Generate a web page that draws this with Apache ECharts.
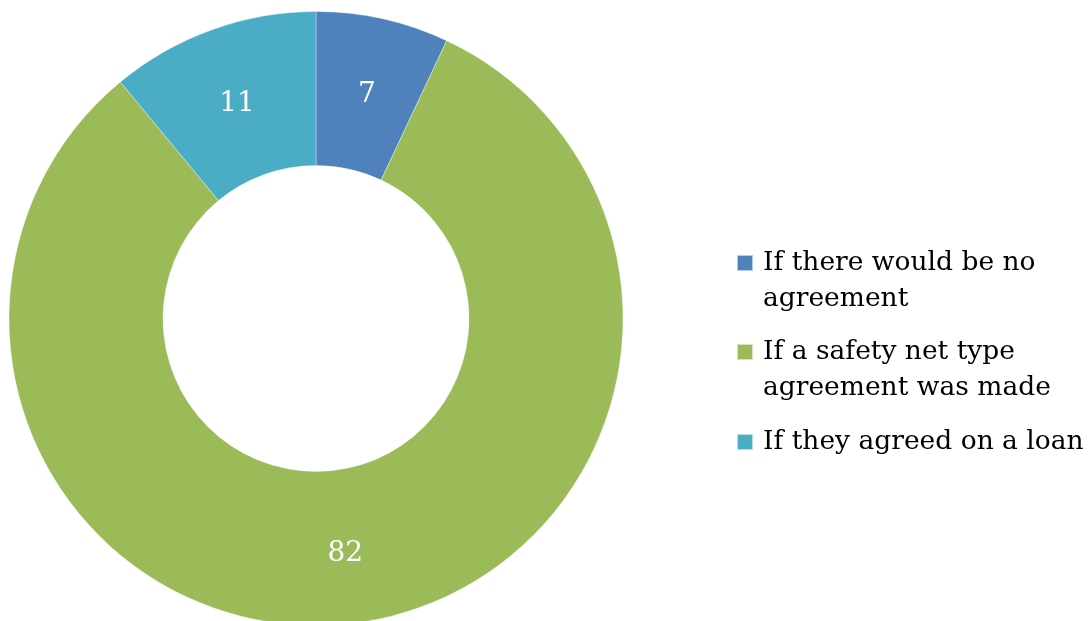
<!DOCTYPE html>
<html>
<head>
<meta charset="utf-8">
<script src="https://cdn.jsdelivr.net/npm/echarts@6/dist/echarts.min.js"></script>
<style>
html,body{margin:0;padding:0;background:#fff;}
#chart{width:1089px;height:621px;}
</style>
</head>
<body>
<div id="chart"></div>
<script>
const categories = ['If there would be no agreement', 'If a safety net type agreement was made', 'If they agreed on a loan'];
const legendLabels = [' \nIf there would be no\nagreement', ' \nIf a safety net type\nagreement was made', 'If they agreed on a loan'];
const values = [7, 82, 11];
const colors = ['#4F81BD', '#9BBB59', '#4BACC6'];

const FONT = 'DejaVu Serif';
const chart = echarts.init(document.getElementById('chart'));

const legendTops = [209, 298, 424];
const legends = categories.map((c, i) => ({
  show: true,
  left: 736,
  top: legendTops[i],
  padding: 0,
  orient: 'vertical',
  itemWidth: 16,
  itemHeight: 16,
  icon: 'rect',
  data: [c],
  selectedMode: false,
  formatter: () => legendLabels[i],
  textStyle: {
    fontFamily: FONT,
    fontSize: 26.5,
    color: '#000',
    lineHeight: 36,
    padding: [0, 0, 0, 5]
  }
}));

chart.setOption({
  animation: false,
  color: colors,
  legend: legends,
  series: [{
    type: 'pie',
    center: [316, 318.5],
    radius: [153, 307],
    startAngle: 90,
    clockwise: true,
    avoidLabelOverlap: false,
    itemStyle: { borderColor: 'rgba(255,255,255,0.6)', borderWidth: 0.6 },
    label: {
      show: true,
      position: 'inside',
      formatter: '{c}',
      color: '#fff',
      fontFamily: FONT,
      fontSize: 28,
      offset: [0, 4]
    },
    labelLine: { show: false },
    emphasis: { disabled: true },
    data: categories.map((c, i) => ({ name: c, value: values[i] }))
  }]
});
</script>
</body>
</html>
